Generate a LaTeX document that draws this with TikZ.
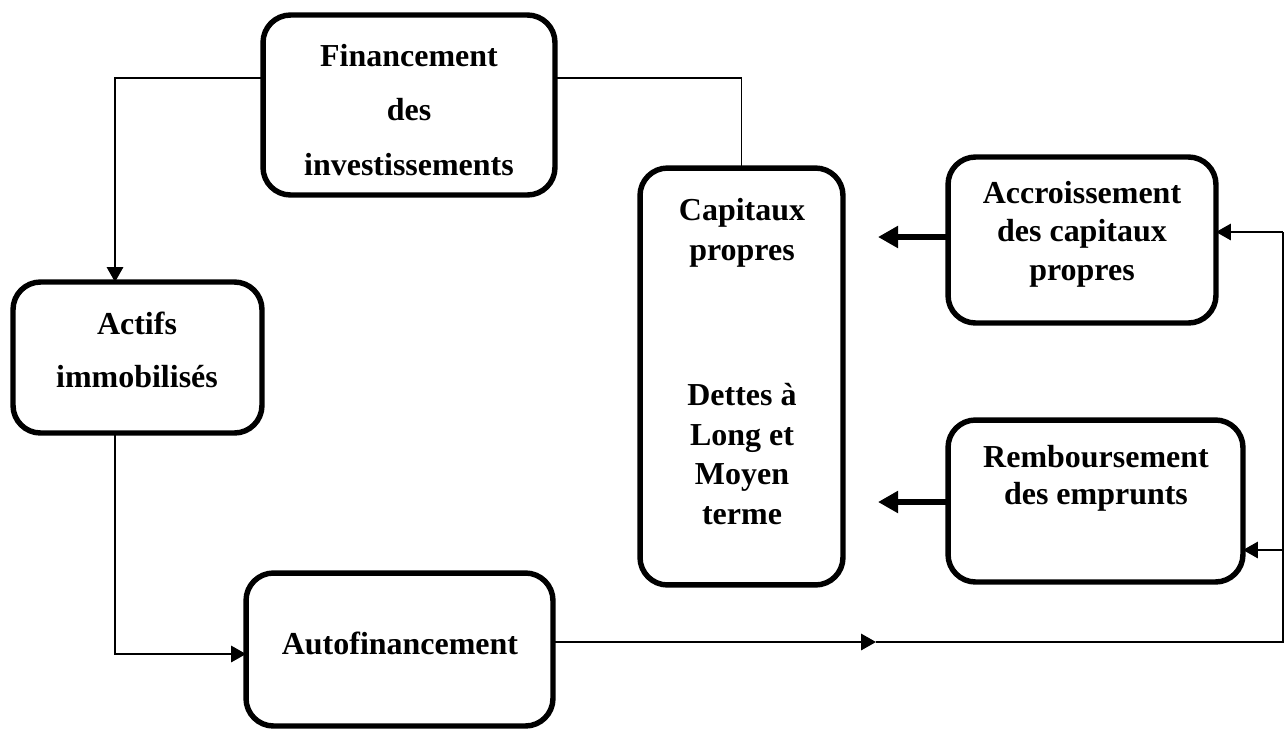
\documentclass[tikz,border=0pt]{standalone}
\usepackage{fontspec}
\setmainfont{Liberation Serif}
\usetikzlibrary{arrows.meta}
\tikzset{
  box/.style={draw, line width=3.1pt, rounded corners=0.55cm, inner sep=0pt, outer sep=0pt},
  txt/.style={align=center, inner sep=0pt},
  thinline/.style={line width=1pt},
  thinarrow/.style={line width=1pt, -{Triangle[length=0.3cm,width=0.33cm]}},
  thickarrow/.style={line width=3.6pt, -{Triangle[length=0.4cm,width=0.42cm]}},
}
\newcommand{\fsz}[1]{\fontsize{18.2pt}{#1}\selectfont\bfseries}
\begin{document}
\begin{tikzpicture}[x=0.02cm,y=-0.02cm]
\useasboundingbox (0,0) rectangle (1285,728);
% boxes
\node[box, minimum width=5.84cm, minimum height=3.6cm] (fin) at (409,105) {};
\node[box, minimum width=4.98cm, minimum height=3.02cm] (act) at (137.5,357.5) {};
\node[box, minimum width=4.06cm, minimum height=8.34cm] (cap) at (741.5,376.5) {};
\node[box, minimum width=5.36cm, minimum height=3.32cm] (acc) at (1082,240) {};
\node[box, minimum width=5.9cm, minimum height=3.24cm] (rem) at (1095.5,501) {};
\node[box, minimum width=6.14cm, minimum height=3.06cm] (auto) at (399.5,649.5) {};
% texts
\node[txt, font=\fsz{31pt}] (fint) at (409,110) {Financement\\des\\investissements};
\node[txt, font=\fsz{30pt}] (actt) at (137,350) {Actifs\\immobilisés};
\node[txt, font=\fsz{22.7pt}] (capt1) at (742,233) {Capitaux\\propres};
\node[txt, font=\fsz{22.7pt}] (capt2) at (742,454) {Dettes à\\Long et\\Moyen\\terme};
\node[txt, font=\fsz{21.8pt}] (acct) at (1082,234) {Accroissement\\des capitaux\\propres};
\node[txt, font=\fsz{21pt}] (remt) at (1096,478) {Remboursement\\des emprunts};
\node[txt, font=\fsz{22pt}] (autot) at (400,643) {Autofinancement};
% coordinates
\coordinate (mid) at (876,642);
\coordinate (rtop) at (1283,232);
\coordinate (rmid) at (1283,550);
\coordinate (rbot) at (1283,642);
\coordinate (t1) at (878,237);
\coordinate (t2) at (878,502);
% connectors
\draw[thinarrow] ([yshift=0.54cm]fin.west) -| ([xshift=-0.45cm]act.north);
\draw[thinline] ([yshift=0.54cm]fin.east) -| (cap.north);
\draw[thinarrow] ([xshift=-0.45cm]act.south) |- ([yshift=-0.09cm]auto.west);
\draw[thinarrow] (auto.east |- mid) -- (mid);
\draw[thinline] (mid) -- (rbot) -- (rtop);
\draw[thinarrow] (rtop) -- (acc.east |- rtop);
\draw[thinarrow] (rmid) -- (rem.east |- rmid);
\draw[thickarrow] (acc.west |- t1) -- (t1);
\draw[thickarrow] (rem.west |- t2) -- (t2);
\end{tikzpicture}
\end{document}
